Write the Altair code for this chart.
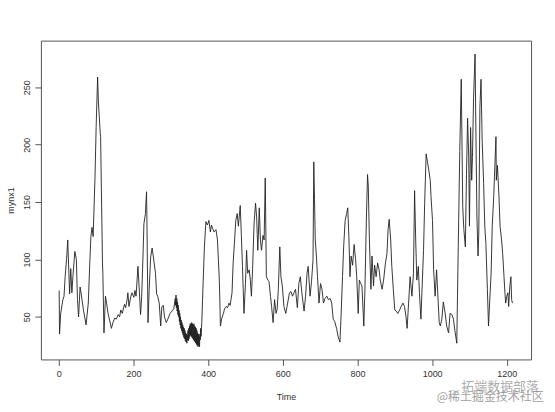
import altair as alt
import pandas as pd

# time index and values
t_main = [1, 2, 5, 11, 14, 17, 21, 24, 27, 29, 32, 35, 38, 43, 47, 50, 53, 57, 60, 66,
          73, 79, 83, 86, 89, 92, 97, 100, 104, 106, 111, 112, 117, 118, 121, 125, 128, 132,
          141, 145, 150, 154, 159, 163, 166, 170, 176, 179, 183, 185, 188, 193, 196, 201, 204,
          207, 212, 216, 219, 222, 226, 228, 232, 235, 236, 239, 242, 246, 250, 253, 259, 262,
          265, 269, 273, 276, 280, 283, 288, 292, 298, 303, 308, 311]
v_main = [73, 35, 53, 65, 68, 85, 101, 117, 88, 70, 92, 71, 86, 107, 100, 65, 50, 76, 70, 56,
          43, 62, 97, 120, 128, 120, 172, 215, 259, 238, 210, 207, 97, 88, 36, 68, 62, 53,
          40, 45, 49, 48, 52, 50, 56, 53, 61, 58, 65, 71, 59, 68, 71, 67, 73,
          68, 94, 71, 52, 68, 108, 131, 140, 159, 137, 45, 73, 102, 110, 103, 88, 70,
          68, 62, 42, 59, 60, 50, 45, 48, 53, 55, 57, 64]

t_dense = list(range(312, 382))
v_dense = [66, 60, 69, 58, 66, 55, 63, 52, 60, 50, 56, 46, 53, 43, 50, 40, 47, 38, 45, 36,
           43, 34, 41, 32, 40, 31, 38, 29, 36, 28, 35, 27, 34, 30, 38, 29, 40, 31, 42, 33,
           44, 34, 44, 33, 45, 32, 44, 31, 43, 30, 44, 29, 42, 28, 41, 27, 40, 26, 38, 25,
           36, 24, 35, 25, 33, 24, 35, 30, 40, 33]

t_late = [383, 386, 390, 394, 398, 402, 406, 409, 412, 416, 421, 425, 430, 433, 436, 441, 444,
          448, 452, 456, 459, 464, 467, 471, 474, 478, 481, 486, 489, 492, 496, 500, 503, 506,
          510, 513, 516, 519, 523, 527, 530, 533, 537, 540, 543, 547, 550, 553, 556, 560, 563,
          567, 570, 574, 578, 582, 585, 588, 592, 595, 599, 603, 608, 613, 618, 622, 626, 630,
          634, 639, 643, 647, 651, 657, 661, 665, 668, 673, 677, 681, 683, 685, 687, 690, 693,
          697, 701, 705, 709, 713, 718, 722, 727, 731, 735, 739, 744, 748, 753, 756, 760, 763,
          767, 771, 774, 777, 780, 783, 787, 791, 795, 798, 802, 805, 809, 812, 817, 820, 824,
          827, 829, 832, 836, 839, 843, 846, 850, 854, 858, 861, 866, 870, 875, 879, 882, 885,
          889, 892, 896, 900, 904, 908, 913, 917, 922, 926, 930, 933, 937, 941, 946, 950, 953,
          956, 959, 963, 966, 970, 973, 977, 980, 984, 988, 991, 995, 997, 1001, 1004, 1008,
          1012, 1015, 1019, 1022, 1026, 1030, 1035, 1039, 1044, 1048, 1053, 1057, 1061, 1066,
          1070, 1074, 1078, 1082, 1085, 1089, 1092, 1095, 1098, 1100, 1103, 1106, 1108, 1111,
          1115, 1117, 1120, 1123, 1125, 1128, 1131, 1134, 1138, 1141, 1144, 1148, 1151, 1154,
          1158, 1161, 1165, 1168, 1171, 1172, 1175, 1179, 1182, 1186, 1189, 1192, 1195, 1197,
          1200, 1203, 1205, 1208, 1211, 1213, 1215]
v_late = [45, 74, 111, 133, 130, 134, 124, 130, 127, 124, 126, 117, 82, 42, 48, 53, 57,
          59, 58, 62, 60, 71, 97, 117, 134, 140, 129, 147, 121, 94, 53, 79, 108, 88,
          91, 82, 68, 91, 131, 149, 137, 108, 145, 117, 108, 121, 117, 171, 85, 82, 81,
          68, 59, 45, 65, 53, 57, 74, 111, 85, 76, 59, 53, 62, 71, 72, 68, 71,
          74, 58, 79, 85, 71, 55, 68, 88, 94, 68, 81, 100, 185, 152, 117, 103, 85,
          62, 79, 74, 62, 66, 68, 65, 66, 62, 48, 46, 40, 33, 28, 50, 85, 111,
          134, 140, 145, 120, 85, 103, 95, 113, 100, 85, 53, 82, 79, 77, 42, 74, 137,
          174, 164, 117, 74, 103, 77, 95, 85, 97, 91, 82, 74, 82, 97, 105, 126, 135,
          117, 94, 74, 56, 55, 53, 56, 59, 62, 59, 50, 40, 62, 85, 68, 88, 160,
          117, 82, 94, 71, 48, 74, 108, 149, 192, 184, 178, 169, 155, 134, 91, 68,
          91, 71, 45, 42, 48, 63, 53, 42, 36, 53, 52, 48, 38, 27,
          111, 194, 257, 146, 126, 111, 174, 223, 190, 129, 215, 169, 189, 241,
          279, 218, 137, 103, 123, 233, 257, 204, 166, 129, 114, 74, 42, 62,
          88, 129, 155, 181, 207, 169, 182, 155, 129, 117, 105, 88, 71, 62,
          68, 71, 59, 76, 85, 65, 62]

x_ticks = [0, 200, 400, 600, 800, 1000, 1200]
y_ticks = [50, 100, 150, 200, 250]
watermark = ["拓端数据部落", "@稀土掘金技术社区"]

df = pd.DataFrame({"Time": t_main + t_dense + t_late,
                   "mynx1": v_main + v_dense + v_late})

FONT = "Liberation Sans"

line = alt.Chart(df).mark_line(color="#222222", strokeWidth=0.9).encode(
    x=alt.X("Time:Q",
            scale=alt.Scale(domain=[-48, 1265], nice=False, zero=False),
            axis=alt.Axis(values=x_ticks, format="d", title="Time", grid=False,
                          domain=False, tickSize=6, tickColor="#555", labelPadding=4,
                          labelFontSize=9, labelColor="#333", labelFont=FONT,
                          titleFont=FONT, titleFontSize=9, titleColor="#333",
                          titleFontWeight="normal", titleY=37, titleBaseline="middle")),
    y=alt.Y("mynx1:Q",
            scale=alt.Scale(domain=[12.9, 290.7], nice=False, zero=False),
            axis=alt.Axis(values=y_ticks, format="d", title="mynx1", grid=False,
                          domain=False, tickSize=6, tickColor="#555", labelPadding=3,
                          labelAngle=-90, labelAlign="center", labelBaseline="bottom",
                          labelFontSize=9, labelColor="#333", labelFont=FONT,
                          titleFont=FONT, titleFontSize=9, titleColor="#333",
                          titleFontWeight="normal", titleAngle=270,
                          titleX=-30, titleY=160, titleAlign="center",
                          titleBaseline="middle")),
    order="Time:Q",
)

wm_df = pd.DataFrame({"label": watermark})
wm1 = alt.Chart(wm_df.iloc[[0]]).mark_text(
    font="Noto Sans CJK SC", fontSize=13, color="#9a9a9a", opacity=0.8
).encode(x=alt.value(461), y=alt.value(348), text="label:N")
wm2 = alt.Chart(wm_df.iloc[[1]]).mark_text(
    font="Noto Sans CJK SC", fontSize=12, color="#8a8a8a", opacity=0.8
).encode(x=alt.value(451), y=alt.value(358), text="label:N")

chart = alt.layer(line, wm1, wm2).properties(
    width=492, height=320,
    autosize=alt.AutoSizeParams(type="none"),
    padding={"left": 33, "top": 32, "right": 16, "bottom": 44},
    background="white",
).configure_view(stroke="#555", strokeWidth=1)

chart.save("out.html", embed_options={"renderer": "svg", "actions": False})
